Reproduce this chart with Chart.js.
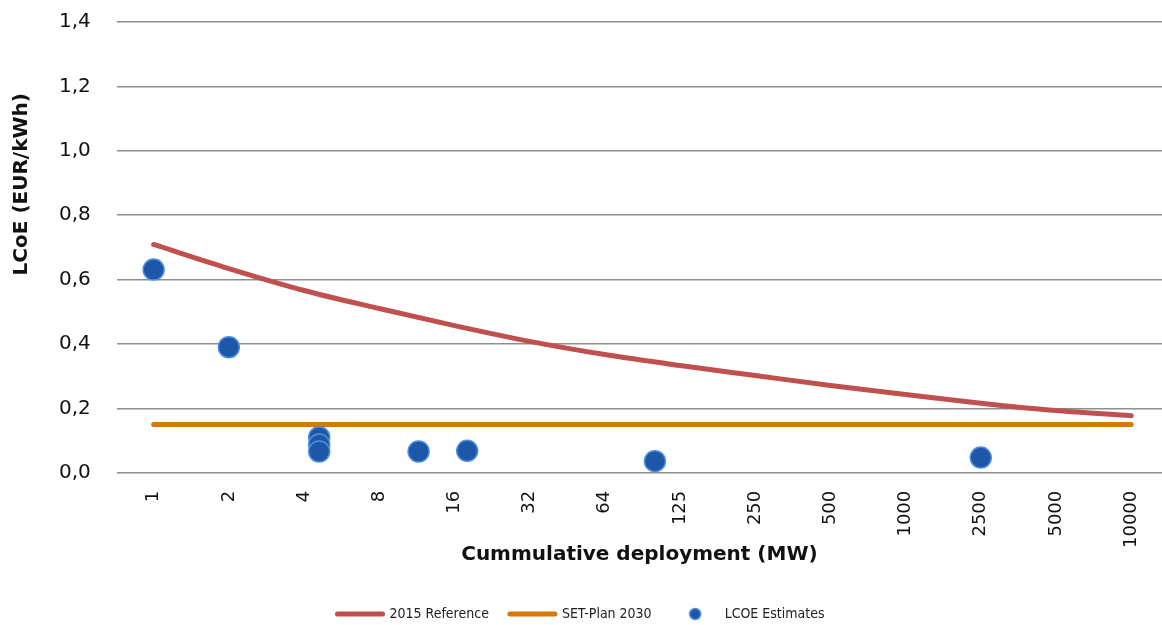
<!DOCTYPE html>
<html>
<head>
<meta charset="utf-8">
<script src="https://cdn.jsdelivr.net/npm/chart.js@4.4.1/dist/chart.umd.min.js"></script>
<style>
  html, body { margin: 0; padding: 0; background: #fff; }
  #wrap { width: 1162px; height: 625px; position: relative; }
</style>
</head>
<body>
<div id="wrap"><canvas id="c"></canvas></div>
<script>
// Tick labels of the deployment axis (MW), evenly spaced on the axis
const deploymentTicks = [1, 2, 4, 8, 16, 32, 64, 125, 250, 500, 1000, 2500, 5000, 10000];
const yTicks = [0, 0.2, 0.4, 0.6, 0.8, 1.0, 1.2, 1.4];

// 2015 Reference curve, one value per tick
const reference2015 = [0.709, 0.634, 0.566, 0.510, 0.457, 0.408, 0.367, 0.333, 0.302, 0.271, 0.243, 0.216, 0.193, 0.177];
// SET-Plan 2030 target
const setPlan2030 = [0.15, 0.15, 0.15, 0.15, 0.15, 0.15, 0.15, 0.15, 0.15, 0.15, 0.15, 0.15, 0.15, 0.15];

// LCOE estimates: deployment (MW) and LCOE (EUR/kWh)
const estimateMW   = [1, 2, 4.6, 4.6, 4.6, 11.5, 18, 100, 2500];
const estimateLCOE = [0.631, 0.39, 0.11, 0.088, 0.066, 0.066, 0.068, 0.036, 0.047];

const yTitleText = 'LCoE (EUR/kWh)';
const xTitleText = 'Cummulative deployment (MW)';

// map MW onto the evenly spaced tick axis (log interpolation between ticks)
function axisPos(mw) {
  for (let i = 0; i < deploymentTicks.length - 1; i++) {
    const a = deploymentTicks[i], b = deploymentTicks[i + 1];
    if (mw <= b) return i + Math.log(mw / a) / Math.log(b / a);
  }
  return deploymentTicks.length - 1;
}

const dotImg = document.createElement('canvas');
dotImg.width = 14; dotImg.height = 14;
(function () {
  const g = dotImg.getContext('2d');
  g.beginPath(); g.arc(7, 7, 5.5, 0, Math.PI * 2);
  g.fillStyle = '#1f57a8'; g.fill();
  g.lineWidth = 1.5; g.strokeStyle = '#4a8fe0'; g.stroke();
})();

// Y-axis title, placed as in the original (above the plot-area centre)
const yTitlePlugin = {
  id: 'yTitle',
  afterDraw(ch) {
    const ctx = ch.ctx, a = ch.chartArea;
    ctx.save();
    ctx.translate(22, a.top + (a.bottom - a.top) * 0.36);
    ctx.rotate(-Math.PI / 2);
    ctx.font = 'bold 20px "DejaVu Sans"';
    ctx.fillStyle = '#111';
    ctx.textAlign = 'center';
    ctx.textBaseline = 'middle';
    ctx.fillText(yTitleText, 0, 0);
    ctx.restore();
  }
};

const refData = reference2015.map((v, i) => ({ x: i, y: v }));
const setData = setPlan2030.map((v, i) => ({ x: i, y: v }));
const estData = estimateMW.map((mw, i) => ({ x: axisPos(mw), y: estimateLCOE[i] }));

const chart = new Chart(document.getElementById('c'), {
  type: 'line',
  data: {
    datasets: [
      { label: '2015 Reference', data: refData, borderColor: '#c0504d', backgroundColor: '#c0504d',
        borderWidth: 5, pointRadius: 0, tension: 0.4, cubicInterpolationMode: 'monotone',
        borderCapStyle: 'round', order: 3 },
      { label: 'SET-Plan 2030', data: setData, borderColor: '#d97800', backgroundColor: '#d97800',
        borderWidth: 5, pointRadius: 0, borderCapStyle: 'round', order: 2 },
      { label: 'LCOE Estimates', type: 'scatter', data: estData, showLine: false,
        pointRadius: 10.5, pointBorderWidth: 1.5, pointBackgroundColor: '#1f57a8',
        pointBorderColor: '#4a8fe0', order: 1 }
    ]
  },
  plugins: [yTitlePlugin],
  options: {
    responsive: true,
    maintainAspectRatio: false,
    animation: false,
    layout: { autoPadding: false, padding: { left: 0, right: 0, top: 22, bottom: -6 } },
    plugins: {
      tooltip: { enabled: false },
      legend: {
        position: 'bottom',
        labels: {
          usePointStyle: true,
          pointStyleWidth: 45,
          padding: 21,
          color: '#222',
          font: { family: '"DejaVu Sans Condensed", "Liberation Sans Narrow", "DejaVu Sans"', size: 14 },
          generateLabels: (ch) => ch.data.datasets.map((ds, i) => ({
            text: ds.label,
            fillStyle: ds.borderColor || ds.pointBackgroundColor,
            strokeStyle: ds.borderColor || ds.pointBackgroundColor,
            lineWidth: 5,
            lineCap: 'round',
            pointStyle: i < 2 ? 'line' : dotImg,
            hidden: false,
            datasetIndex: i,
            fontColor: '#222'
          }))
        }
      }
    },
    scales: {
      x: {
        type: 'linear',
        min: -0.49,
        max: 13.41,
        afterBuildTicks: (s) => { s.ticks = deploymentTicks.map((_, i) => ({ value: i })); },
        afterFit: (s) => { s.paddingLeft = 0; s.paddingRight = 0; },
        grid: { display: false, drawTicks: false },
        border: { display: false },
        ticks: {
          minRotation: 90, maxRotation: 90, autoSkip: false, padding: 18,
          color: '#111',
          font: { family: '"DejaVu Sans"', size: 18 },
          callback: (v) => String(deploymentTicks[v])
        },
        title: {
          display: true, text: xTitleText, color: '#111',
          font: { family: '"DejaVu Sans"', size: 20, weight: 'bold' },
          padding: { top: -23, bottom: 19 }
        }
      },
      y: {
        min: 0, max: 1.4,
        afterBuildTicks: (s) => { s.ticks = yTicks.map(v => ({ value: v })); },
        afterFit: (s) => { s.paddingTop = 0; s.paddingBottom = 0; s.width += 33; },
        grid: { color: '#8e8e8e', lineWidth: 1.5, drawTicks: false },
        border: { display: false },
        ticks: {
          padding: 26, color: '#111',
          font: { family: '"DejaVu Sans"', size: 20 },
          callback: (v) => v.toFixed(1).replace('.', ',')
        },
        title: { display: false }
      }
    }
  }
});
</script>
</body>
</html>
